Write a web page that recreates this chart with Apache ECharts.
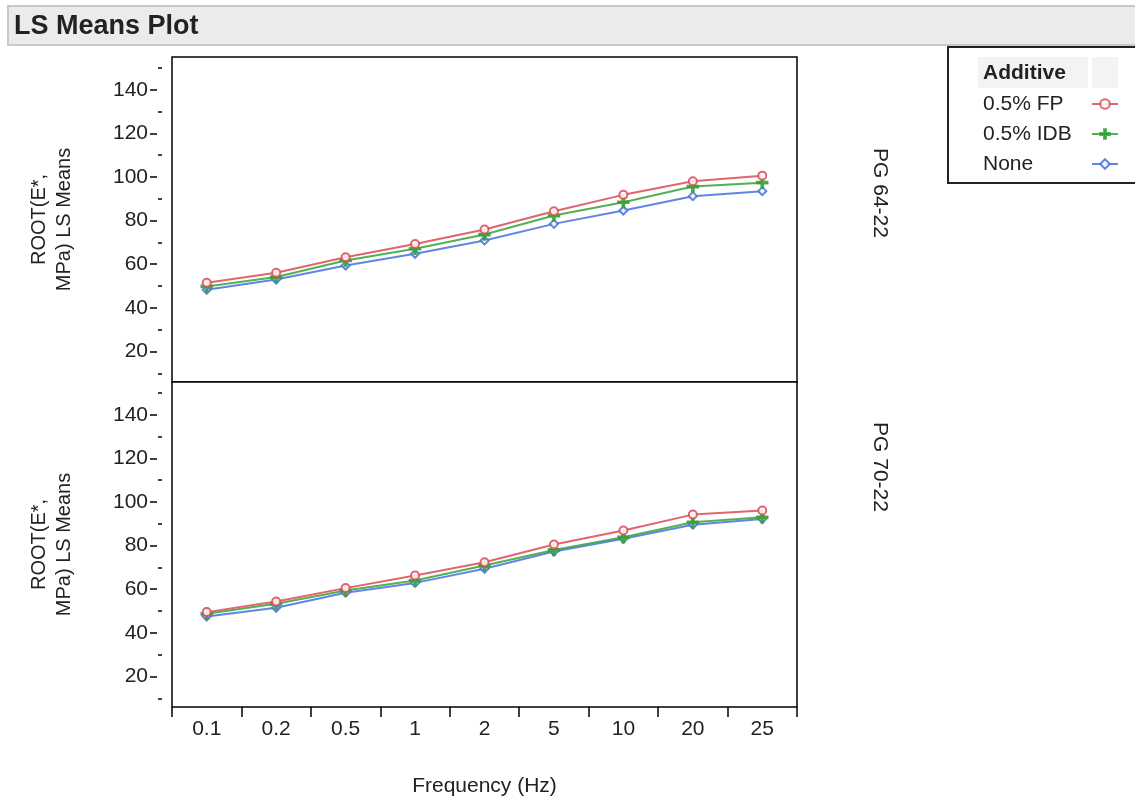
<!DOCTYPE html>
<html>
<head>
<meta charset="utf-8">
<title>LS Means Plot</title>
<script src="https://cdn.jsdelivr.net/npm/echarts@6/dist/echarts.min.js"></script>
<style>
  html, body { margin: 0; padding: 0; background: #ffffff; }
  #chart { width: 1135px; height: 801px; }
</style>
</head>
<body>
<div id="chart"></div>
<script>
// Frequency levels (categorical x axis)
const frequencies = ['0.1', '0.2', '0.5', '1', '2', '5', '10', '20', '25'];

// Additive levels
const additives = ['0.5% FP', '0.5% IDB', 'None'];

// Binder grades (one panel each)
const binders = ['PG 64-22', 'PG 70-22'];

// LS means of ROOT(E*, MPa), PG 64-22 panel
const pg64_FP   = [51.5, 56.1, 63.2, 69.3, 75.9, 84.3, 91.8, 98.0, 100.6];
const pg64_IDB  = [49.8, 54.1, 61.7, 67.1, 73.6, 82.3, 88.4, 95.6, 97.4];
const pg64_None = [48.3, 53.0, 59.4, 64.8, 70.9, 78.5, 84.6, 91.2, 93.5];

// LS means of ROOT(E*, MPa), PG 70-22 panel
const pg70_FP   = [49.5, 54.4, 60.5, 66.3, 72.4, 80.5, 86.9, 94.2, 96.1];
const pg70_IDB  = [48.7, 53.3, 59.4, 64.0, 70.9, 78.0, 83.8, 90.7, 93.0];
const pg70_None = [47.5, 51.5, 58.4, 62.9, 69.4, 77.3, 83.1, 89.6, 92.2];

// Y tick values
const yMajorTicks = [20, 40, 60, 80, 100, 120, 140];
const yMinorTicks = [10, 30, 50, 70, 90, 110, 130, 150];

const FONT = "'Liberation Sans', Arial, sans-serif";
const TEXT = '#222222';
const COLORS = ['#dc4a55', '#35a235', '#4570e0'];
const PLUS = 'path://M4,0 H6 V4 H10 V6 H6 V10 H4 V6 H0 V4 H4 Z';
const SYMBOLS = ['emptyCircle', PLUS, 'emptyDiamond'];
const SYMBOL_SIZES = [8, 11, 8];

const panelData = [
  [pg64_FP, pg64_IDB, pg64_None],
  [pg70_FP, pg70_IDB, pg70_None]
];

const PLOT_LEFT = 172, PLOT_WIDTH = 625, PANEL_TOP = 57, PANEL_H = 325;
const Y_MIN = 6, Y_MAX = 155;

const grids = [], xAxes = [], yAxes = [], series = [];

binders.forEach((b, p) => {
  const isBottom = p === binders.length - 1;
  grids.push({
    left: PLOT_LEFT, width: PLOT_WIDTH,
    top: PANEL_TOP + p * PANEL_H, height: PANEL_H,
    show: true, borderColor: '#000', borderWidth: 1.5,
    backgroundColor: '#fff'
  });
  xAxes.push({
    type: 'category', gridIndex: p, data: frequencies, boundaryGap: true,
    axisLine: { show: false },
    axisTick: { show: isBottom, length: 10, lineStyle: { color: '#000', width: 1.5 } },
    axisLabel: { show: isBottom, fontSize: 21, color: TEXT, fontFamily: FONT, margin: 12 },
    name: isBottom ? 'Frequency (Hz)' : '',
    nameLocation: 'middle', nameGap: 69,
    nameTextStyle: { fontSize: 21, color: TEXT, fontFamily: FONT },
    splitLine: { show: false }
  });
  // labelled axis with major ticks
  yAxes.push({
    type: 'value', gridIndex: p, min: Y_MIN, max: Y_MAX, position: 'left', offset: 15,
    axisLine: { show: false },
    axisTick: { show: true, length: 7, customValues: yMajorTicks, lineStyle: { color: '#000', width: 1.5 } },
    axisLabel: { show: true, customValues: yMajorTicks, fontSize: 21, color: TEXT, fontFamily: FONT, margin: 9 },
    splitLine: { show: false },
    name: 'ROOT(E*,\nMPa) LS Means',
    nameLocation: 'middle', nameRotate: 90, nameGap: 80,
    nameTextStyle: { fontSize: 20, lineHeight: 25, color: TEXT, fontFamily: FONT, align: 'center' }
  });
  // minor tick marks
  yAxes.push({
    type: 'value', gridIndex: p, min: Y_MIN, max: Y_MAX, position: 'left', offset: 10,
    axisLine: { show: false },
    axisTick: { show: true, length: 4, customValues: yMinorTicks, lineStyle: { color: '#000', width: 1.5 } },
    axisLabel: { show: false },
    splitLine: { show: false }
  });
  additives.forEach((a, i) => {
    series.push({
      name: a, type: 'line', xAxisIndex: p, yAxisIndex: p * 2,
      data: panelData[p][i],
      symbol: SYMBOLS[i], symbolSize: SYMBOL_SIZES[i],
      lineStyle: { color: COLORS[i], width: 2, opacity: 0.85 },
      itemStyle: { color: COLORS[i], borderColor: COLORS[i], borderWidth: 1.5, opacity: 0.85 },
      z: 3 - i,
      animation: false
    });
  });
});

const chart = echarts.init(document.getElementById('chart'), null, { renderer: 'canvas' });

chart.setOption({
  animation: false,
  backgroundColor: '#ffffff',
  color: COLORS,
  grid: grids,
  xAxis: xAxes,
  yAxis: yAxes,
  series: series,
  legend: {
    data: additives,
    orient: 'vertical',
    left: 978, top: 88,
    align: 'right',
    itemWidth: 26, itemHeight: 12, itemGap: 8,
    selectedMode: false,
    formatter: name => '{a|' + name + '}',
    textStyle: {
      fontSize: 21, lineHeight: 22, color: TEXT, fontFamily: FONT,
      rich: { a: { width: 104, align: 'left', fontSize: 21, lineHeight: 22, color: TEXT, fontFamily: FONT } }
    }
  },
  graphic: [
    // title bar
    { type: 'rect', shape: { x: 8, y: 6, width: 1140, height: 39 },
      style: { fill: '#ebebeb', stroke: '#c8c8c8', lineWidth: 2 }, z: 0 },
    { type: 'text', x: 14, y: 27,
      style: { text: 'LS Means Plot', font: 'bold 27px ' + FONT, fill: TEXT, textVerticalAlign: 'middle' }, z: 1 },
    // legend frame and header
    { type: 'rect', shape: { x: 948, y: 47, width: 200, height: 136 },
      style: { fill: '#fff', stroke: '#222', lineWidth: 2 }, z: 0 },
    { type: 'rect', shape: { x: 978, y: 57, width: 110, height: 31 },
      style: { fill: '#f3f3f3' }, z: 1 },
    { type: 'rect', shape: { x: 1092, y: 57, width: 26, height: 31 },
      style: { fill: '#f3f3f3' }, z: 1 },
    { type: 'text', x: 983, y: 73,
      style: { text: 'Additive', font: 'bold 21px ' + FONT, fill: TEXT, textVerticalAlign: 'middle' }, z: 2 },
    // panel labels
    { type: 'text', x: 880, y: 193, rotation: -Math.PI / 2,
      style: { text: binders[0], font: '21px ' + FONT, fill: TEXT, textAlign: 'center', textVerticalAlign: 'middle' }, z: 1 },
    { type: 'text', x: 880, y: 467, rotation: -Math.PI / 2,
      style: { text: binders[1], font: '21px ' + FONT, fill: TEXT, textAlign: 'center', textVerticalAlign: 'middle' }, z: 1 }
  ]
});
</script>
</body>
</html>
